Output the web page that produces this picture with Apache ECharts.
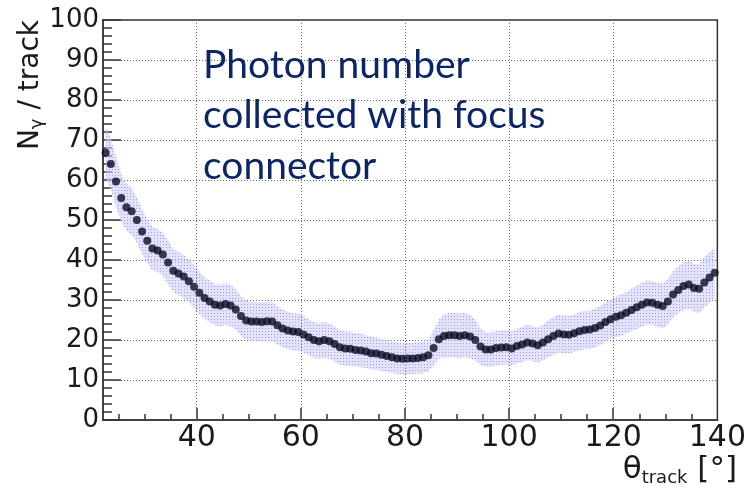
<!DOCTYPE html>
<html>
<head>
<meta charset="utf-8">
<script src="https://cdn.jsdelivr.net/npm/echarts@6/dist/echarts.min.js"></script>
<style>
  html, body { margin: 0; padding: 0; background: #ffffff; }
  #chart { width: 749px; height: 495px; }
</style>
</head>
<body>
<div id="chart"></div>
<script>
// Track polar angle (bin centres, degrees)
const thetaDeg = [
  22.5, 23.5, 24.5, 25.5, 26.5, 27.5, 28.5, 29.5, 30.5, 31.5,
  32.5, 33.5, 34.5, 35.5, 36.5, 37.5, 38.5, 39.5, 40.5, 41.5,
  42.5, 43.5, 44.5, 45.5, 46.5, 47.5, 48.5, 49.5, 50.5, 51.5,
  52.5, 53.5, 54.5, 55.5, 56.5, 57.5, 58.5, 59.5, 60.5, 61.5,
  62.5, 63.5, 64.5, 65.5, 66.5, 67.5, 68.5, 69.5, 70.5, 71.5,
  72.5, 73.5, 74.5, 75.5, 76.5, 77.5, 78.5, 79.5, 80.5, 81.5,
  82.5, 83.5, 84.5, 85.5, 86.5, 87.5, 88.5, 89.5, 90.5, 91.5,
  92.5, 93.5, 94.5, 95.5, 96.5, 97.5, 98.5, 99.5, 100.5, 101.5,
  102.5, 103.5, 104.5, 105.5, 106.5, 107.5, 108.5, 109.5, 110.5, 111.5,
  112.5, 113.5, 114.5, 115.5, 116.5, 117.5, 118.5, 119.5, 120.5, 121.5,
  122.5, 123.5, 124.5, 125.5, 126.5, 127.5, 128.5, 129.5, 130.5, 131.5,
  132.5, 133.5, 134.5, 135.5, 136.5, 137.5, 138.5, 139.5
];

// Mean number of detected photons per track
const photons = [
  66.8, 64.0, 59.6, 55.5, 53.2, 52.2, 50.0, 47.1, 44.8, 42.9,
  42.4, 41.4, 39.4, 37.3, 36.6, 35.9, 34.7, 33.3, 31.8, 30.5,
  29.6, 28.8, 28.6, 29.0, 28.6, 27.6, 26.0, 24.9, 24.6, 24.6,
  24.5, 24.7, 24.6, 23.7, 22.9, 22.4, 22.1, 22.0, 21.4, 20.7,
  20.0, 19.7, 20.0, 19.7, 19.0, 18.2, 17.9, 17.8, 17.5, 17.4,
  17.1, 16.7, 16.6, 16.3, 16.0, 15.7, 15.4, 15.3, 15.4, 15.4,
  15.5, 15.7, 16.2, 18.0, 20.2, 21.0, 21.2, 21.2, 21.0, 21.2,
  20.9, 20.0, 18.4, 17.6, 17.6, 18.0, 18.1, 18.2, 17.9, 18.5,
  18.9, 19.4, 19.1, 18.7, 19.4, 20.2, 21.0, 21.6, 21.4, 21.3,
  21.7, 22.2, 22.5, 22.6, 23.0, 23.6, 24.5, 25.2, 25.8, 26.2,
  26.8, 27.5, 28.2, 28.8, 29.4, 29.3, 28.8, 28.5, 29.6, 31.4,
  32.5, 33.5, 33.9, 33.0, 32.8, 34.4, 35.6, 36.8
];

// Spread (half width of the shaded band)
const photonErr = [
  6.5, 6.4, 6.2, 6.0, 5.9, 5.8, 5.7, 5.6, 5.5, 5.5,
  5.4, 5.4, 5.4, 5.4, 5.4, 5.4, 5.3, 5.3, 5.3, 5.2,
  5.2, 5.2, 5.2, 5.2, 5.2, 5.1, 5.0, 4.9, 4.9, 4.9,
  4.9, 4.9, 4.9, 4.8, 4.7, 4.7, 4.6, 4.6, 4.6, 4.5,
  4.5, 4.4, 4.5, 4.4, 4.4, 4.3, 4.3, 4.3, 4.2, 4.2,
  4.1, 4.1, 4.1, 4.0, 4.0, 3.9, 3.9, 3.9, 3.9, 3.9,
  3.9, 4.0, 4.1, 4.4, 4.9, 5.4, 5.6, 5.6, 5.6, 5.6,
  5.5, 5.2, 4.6, 4.3, 4.3, 4.3, 4.3, 4.3, 4.3, 4.3,
  4.4, 4.4, 4.4, 4.4, 4.5, 4.6, 4.7, 4.7, 4.7, 4.7,
  4.7, 4.8, 4.8, 4.8, 4.9, 4.9, 5.0, 5.0, 5.1, 5.2,
  5.2, 5.3, 5.4, 5.5, 5.5, 5.5, 5.5, 5.6, 5.7, 5.8,
  5.9, 6.0, 6.0, 6.0, 6.1, 6.2, 6.3, 6.4
];

// Axis ticks
const xLabelValues = [40, 60, 80, 100, 120, 140];
const xMajorTicks = [40, 60, 80, 100, 120];
const xMinorTicks = [25, 30, 35, 45, 50, 55, 65, 70, 75, 85, 90, 95, 105, 110, 115, 125, 130, 135];
const xGridValues = [40, 60, 80, 100, 120];

// Dotted fill used for the error band
function bandPattern() {
  const c = document.createElement('canvas');
  c.width = 3; c.height = 3;
  const ctx = c.getContext('2d');
  ctx.fillStyle = 'rgba(208,208,252,0.6)';
  ctx.fillRect(0, 0, 3, 3);
  ctx.fillStyle = 'rgba(140,140,245,0.75)';
  ctx.fillRect(1, 1, 1, 1);
  return c;
}

const rootFont = 'DejaVu Sans';
const points = thetaDeg.map((x, i) => [x, photons[i]]);

// Band outline: upper edge left to right, lower edge right to left
function renderBand(params, api) {
  if (params.dataIndex !== 0) return null;
  const upper = thetaDeg.map((x, i) => api.coord([x, photons[i] + photonErr[i]]));
  const lower = thetaDeg.map((x, i) => api.coord([x, photons[i] - photonErr[i]])).reverse();
  return {
    type: 'polygon',
    shape: { points: upper.concat(lower) },
    style: { fill: { image: bandPattern(), repeat: 'repeat' }, stroke: null }
  };
}

const chart = echarts.init(document.getElementById('chart'), null, { renderer: 'canvas' });

chart.setOption({
  animation: false,
  backgroundColor: '#ffffff',
  grid: {
    left: 103, right: 29, top: 20, bottom: 75,
    show: true, borderColor: '#333', borderWidth: 1.5, backgroundColor: 'transparent'
  },
  xAxis: [
    {
      type: 'value', min: 22, max: 140, position: 'bottom',
      axisLine: { show: true, onZero: false, lineStyle: { color: '#444', width: 2 } },
      axisTick: { show: true, inside: true, length: 12, customValues: xMajorTicks,
                  lineStyle: { color: '#333', width: 1.5 } },
      axisLabel: { show: true, customValues: xLabelValues, margin: 3,
                   fontFamily: rootFont, fontSize: 30, color: '#1a1a1a' },
      splitLine: { show: false }
    },
    {
      type: 'value', min: 22, max: 140, position: 'bottom', offset: 0,
      axisLine: { show: false, onZero: false },
      axisTick: { show: true, inside: true, length: 6, customValues: xMinorTicks,
                  lineStyle: { color: '#333', width: 1.5 } },
      axisLabel: { show: false },
      splitLine: { show: false }
    }
  ],
  yAxis: {
    type: 'value', min: 0, max: 100, interval: 10,
    axisLine: { show: true, onZero: false, lineStyle: { color: '#444', width: 2 } },
    axisTick: { show: true, inside: true, length: 18, lineStyle: { color: '#333', width: 1.5 } },
    minorTick: { show: true, splitNumber: 5, length: 9, lineStyle: { color: '#333', width: 1.5 } },
    axisLabel: { margin: 4, fontFamily: rootFont, fontSize: 26, color: '#1a1a1a' },
    splitLine: { show: true, lineStyle: { color: '#666', width: 1, type: [1, 2] } }
  },
  series: [
    {
      name: 'band', type: 'custom', data: points,
      renderItem: renderBand, z: 1, silent: true, clip: true,
      encode: { x: 0, y: 1 },
      markLine: {
        silent: true, symbol: 'none', label: { show: false },
        lineStyle: { color: '#666', width: 1, type: [1, 2] },
        data: xGridValues.map(v => ({ xAxis: v }))
      }
    },
    {
      name: 'photons', type: 'scatter', data: points,
      symbol: 'circle', symbolSize: 8, z: 3,
      itemStyle: { color: '#0b0b24' }
    }
  ],
  graphic: [
    {
      type: 'text', x: 203, y: 40, z: 10,
      style: {
        text: 'Photon number\ncollected with focus\nconnector',
        font: '39px Lato', fill: '#0b2566', lineHeight: 50.5,
        align: 'left', verticalAlign: 'top'
      }
    },
    {
      type: 'text', x: 31, y: 20, rotation: Math.PI / 2, z: 10,
      style: {
        text: '{n|N}{g|γ}{n| / track}',
        align: 'right', verticalAlign: 'middle',
        rich: {
          n: { fontFamily: rootFont, fontSize: 28, fill: '#1a1a1a', lineHeight: 30 },
          g: { fontFamily: rootFont, fontSize: 18, fill: '#1a1a1a', lineHeight: 18, padding: [12, 0, 0, 0] }
        }
      }
    },
    {
      type: 'text', x: 737, y: 470, z: 10,
      style: {
        text: '{t|θ}{s|track}{t| [°]}',
        align: 'right', verticalAlign: 'middle',
        rich: {
          t: { fontFamily: rootFont, fontSize: 31, fill: '#1a1a1a', lineHeight: 34 },
          s: { fontFamily: rootFont, fontSize: 18, fill: '#1a1a1a', lineHeight: 18, padding: [17, 0, 0, 0] }
        }
      }
    }
  ]
});
</script>
</body>
</html>
